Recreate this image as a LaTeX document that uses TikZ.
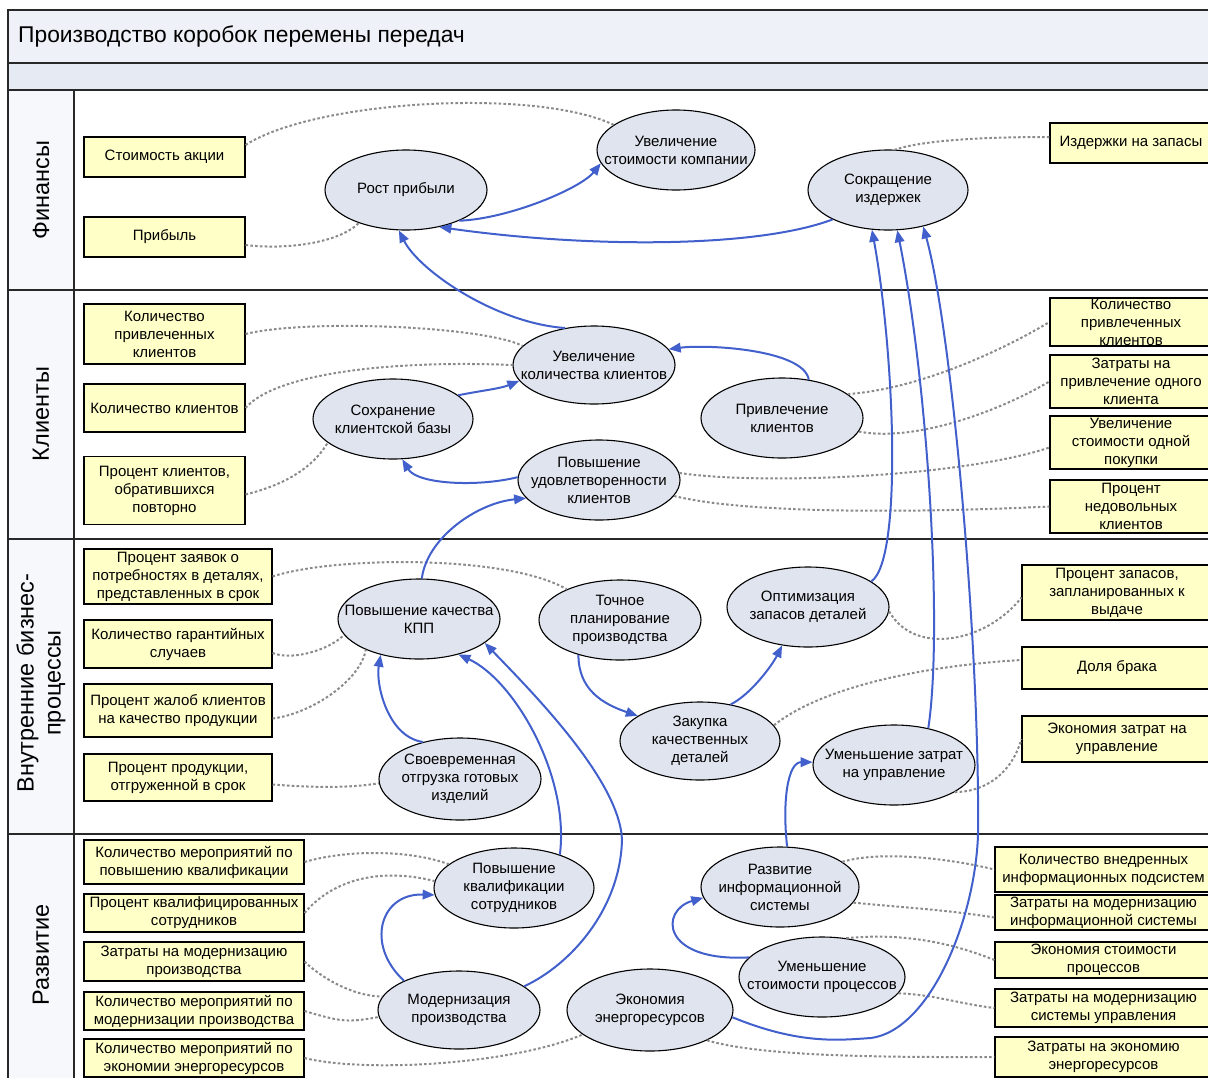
\documentclass[tikz,border=0pt]{standalone}
\usepackage{fontspec}
\setmainfont{Liberation Sans}
\usetikzlibrary{shapes.geometric,arrows.meta}
\definecolor{kpifill}{RGB}{255,255,200}
\definecolor{goalfill}{RGB}{224,228,238}
\definecolor{linkblue}{RGB}{66,96,204}
\definecolor{dotgray}{RGB}{138,138,138}
\definecolor{bandA}{RGB}{238,242,248}
\definecolor{bandB}{RGB}{229,234,243}
\definecolor{lanefill}{RGB}{246,248,251}
\definecolor{framecol}{RGB}{40,40,40}
\newcommand\goalnode[5]{%
  \node[goal,minimum width=#3pt,minimum height=#4pt] (#1) at (#2) {};
  \node[gtext] (#1t) at (#1.center) {#5};}
\newcommand\kpinode[5]{%
  \node[kpi,minimum width=#3pt,minimum height=#4pt] (#1) at (#2) {};
  \node[gtext] (#1t) at (#1.center) {#5};}
\begin{document}
\begin{tikzpicture}[x=1pt,y=-1pt,
  gtext/.style={inner sep=0pt,align=center,font=\fontsize{15}{18}\selectfont},
  kpi/.style={draw=black,line width=1.1pt,fill=kpifill,rectangle,inner sep=0pt},
  goal/.style={draw=black,line width=1.1pt,fill=goalfill,ellipse,inner sep=0pt},
  link/.style={draw=linkblue,line width=2pt,-{Triangle[length=12pt,width=9.5pt]}},
  measure/.style={draw=dotgray,line width=2pt,dash pattern=on 2.6pt off 2.2pt},
  lane/.style={rotate=90,font=\fontsize{23.5}{27}\selectfont,align=center,inner sep=0pt},
  sep/.style={draw=framecol,line width=1.2pt}
]
\useasboundingbox (0,0) rectangle (1208,1077);
\clip (0,0) rectangle (1208,1077);
% frame and lanes
\fill[bandA] (8,10) rectangle (1220,63);
\fill[bandB] (8,63) rectangle (1220,90);
\fill[lanefill] (8,90) rectangle (74,1090);
\draw[sep] (1220,10) -- (8,10) -- (8,1090);
\draw[sep] (8,63) -- (1220,63);
\draw[sep] (8,90) -- (1220,90);
\draw[sep] (8,290) -- (1220,290);
\draw[sep] (8,539) -- (1220,539);
\draw[sep] (8,834) -- (1220,834);
\draw[sep] (74,90) -- (74,1090);
\node[anchor=west,inner sep=0pt,font=\fontsize{22.8}{27}\selectfont] (title) at (18,37) {Производство коробок перемены передач};
\node[lane] (L1) at (41,190) {Финансы};
\node[lane] (L2) at (41,414) {Клиенты};
\node[lane] (L3) at (41,683) {Внутренние бизнес-\\процессы};
\node[lane] (L4) at (41,955) {Развитие};

% KPI boxes
\kpinode{B1}{164.5,157}{161}{40}{Стоимость акции}
\kpinode{B2}{164.5,237}{161}{40}{Прибыль}
\kpinode{B3}{1131,143}{162}{40}{Издержки на запасы}
\kpinode{B4}{164.5,334}{161}{60}{Количество\\привлеченных\\клиентов}
\kpinode{B5}{164.5,408}{161}{48}{Количество клиентов}
\kpinode{B6}{164.5,490.5}{161}{68}{Процент клиентов,\\обратившихся\\повторно}
\kpinode{B7}{1131,322}{162}{48}{Количество\\привлеченных\\клиентов}
\kpinode{B8}{1131,381.5}{162}{53}{Затраты на\\привлечение одного\\клиента}
\kpinode{B9}{1131,442.5}{162}{53}{Увеличение\\стоимости одной\\покупки}
\kpinode{B10}{1131,506.5}{162}{53}{Процент\\недовольных\\клиентов}
\kpinode{B11}{178,576.5}{188}{55}{Процент заявок о\\потребностях в деталях,\\представленных в срок}
\kpinode{B12}{178,644}{188}{48}{Количество гарантийных\\случаев}
\kpinode{B13}{178,710.5}{188}{53}{Процент жалоб клиентов\\на качество продукции}
\kpinode{B14}{178,777.5}{188}{47}{Процент продукции,\\отгруженной в срок}
\kpinode{B15}{1117,592.5}{190}{55}{Процент запасов,\\запланированных к\\выдаче}
\kpinode{B16}{1117,668}{190}{42}{Доля брака}
\kpinode{B17}{1117,739}{190}{46}{Экономия затрат на\\управление}
\kpinode{B18}{194,862}{220}{44}{Количество мероприятий по\\повышению квалификации}
\kpinode{B19}{194,913}{220}{38}{Процент квалифицированных\\сотрудников}
\kpinode{B20}{194,961.5}{220}{39}{Затраты на модернизацию\\производства}
\kpinode{B21}{194,1011}{220}{38}{Количество мероприятий по\\модернизации производства}
\kpinode{B22}{194,1058}{220}{38}{Количество мероприятий по\\экономии энергоресурсов}
\kpinode{B23}{1103.5,869.5}{217}{45}{Количество внедренных\\информационных подсистем}
\kpinode{B24}{1103.5,912.5}{217}{35}{Затраты на модернизацию\\информационной системы}
\kpinode{B25}{1103.5,960}{217}{36}{Экономия стоимости\\процессов}
\kpinode{B26}{1103.5,1008}{217}{38}{Затраты на модернизацию\\системы управления}
\kpinode{B27}{1103.5,1057}{217}{40}{Затраты на экономию\\энергоресурсов}

% goals
\goalnode{E1}{406,190}{162}{80}{Рост прибыли}
\goalnode{E2}{676,150}{158}{80}{Увеличение\\стоимости компании}
\goalnode{E3}{888,190}{160}{80}{Сокращение\\издержек}
\goalnode{E4}{594,365}{162}{78}{Увеличение\\количества клиентов}
\goalnode{E5}{393,419}{160}{80}{Сохранение\\клиентской базы}
\goalnode{E6}{599,480}{162}{80}{Повышение\\удовлетворенности\\клиентов}
\goalnode{E7}{782,418}{162}{80}{Привлечение\\клиентов}
\goalnode{E8}{419,619}{162}{80}{Повышение качества\\КПП}
\goalnode{E9}{620,620}{162}{80}{Точное\\планирование\\производства}
\goalnode{E10}{808,607}{162}{80}{Оптимизация\\запасов деталей}
\goalnode{E11}{700,741}{160}{78}{Закупка\\качественных\\деталей}
\goalnode{E12}{460,779}{162}{82}{Своевременная\\отгрузка готовых\\изделий}
\goalnode{E13}{894,765}{162}{80}{Уменьшение затрат\\на управление}
\goalnode{E14}{514,888}{160}{80}{Повышение\\квалификации\\сотрудников}
\goalnode{E15}{780,887}{158}{80}{Развитие\\информационной\\системы}
\goalnode{E16}{822,977}{166}{80}{Уменьшение\\стоимости процессов}
\goalnode{E17}{650,1010}{166}{82}{Экономия\\энергоресурсов}
\goalnode{E18}{459,1010}{162}{78}{Модернизация\\производства}

% measure links (dotted)
\draw[measure] ([yshift=12pt]B1.east) .. controls +(70,-45) and +(-77,-37) .. (E2.158);
\draw[measure] ([yshift=-8pt]B2.east) .. controls +(40,5) and +(-20,20) .. (E1.-145);
\draw[measure] ([yshift=6pt]B3.west) .. controls +(-60,0) and +(30,-10) .. (E3.80);
\draw[measure] (B4.east) .. controls +(60,-15) and +(-40,-20) .. (E4.165);
\draw[measure] (B5.east) .. controls +(30,-35) and +(-120,-5) .. (E4.180);
\draw[measure] ([yshift=-4pt]B6.east) .. controls +(40,-10) and +(-15,25) .. (E5.-160);
\draw[measure] (E7.20) .. controls +(70,-5) and +(-50,30) .. (B7.west);
\draw[measure] (E7.-10) .. controls +(50,10) and +(-60,35) .. (B8.west);
\draw[measure] (E6.5) .. controls +(80,12) and +(-90,30) .. ([yshift=-5pt]B9.west);
\draw[measure] (E6.-12) .. controls +(80,20) and +(-100,5) .. (B10.west);
\draw[measure] (B11.east) .. controls +(60,-20) and +(-60,-35) .. (E9.150);
\draw[measure] ([yshift=-9pt]B12.east) .. controls +(20,8) and +(-15,15) .. (E8.-168);
\draw[measure] ([yshift=-8pt]B13.east) .. controls +(40,-5) and +(-5,30) .. (E8.-150);
\draw[measure] ([yshift=-7pt]B14.east) .. controls +(40,3) and +(-30,5) .. (E12.183);
\draw[measure] (E10.-3) .. controls +(25,45) and +(-35,45) .. ([yshift=-5pt]B15.west);
\draw[measure] (E11.12) .. controls +(50,-40) and +(-90,5) .. ([yshift=8pt]B16.west);
\draw[measure] (E13.-24) .. controls +(30,0) and +(-10,35) .. (B17.west);
\draw[measure] (B18.east) .. controls +(40,-12) and +(-40,-15) .. (E14.160);
\draw[measure] (B19.east) .. controls +(25,-30) and +(-60,-15) .. (E14.175);
\draw[measure] (B20.east) .. controls +(15,15) and +(-30,0) .. (E18.170);
\draw[measure] (B21.east) .. controls +(40,12) and +(-30,5) .. (E18.-175);
\draw[measure] (B22.east) .. controls +(60,15) and +(-70,30) .. (E17.-160);
\draw[measure] (E15.22) .. controls +(40,-12) and +(-40,-10) .. (B23.west);
\draw[measure] (E15.-12) .. controls +(50,5) and +(-50,-8) .. ([yshift=-5pt]B24.west);
\draw[measure] (E16.58) .. controls +(50,-5) and +(-50,-20) .. (B25.west);
\draw[measure] (E16.-12) .. controls +(40,2) and +(-40,-5) .. (B26.west);
\draw[measure] (E17.-28) .. controls +(60,18) and +(-80,0) .. (B27.west);

% cause-effect links (blue)
\draw[link] (E1.-30) .. controls +(50,-2) and +(-20,25) .. (E2.190);
\draw[link] (E3.208) .. controls +(-80,30) and +(140,20) .. (E1.-48);
\draw[link] (E4.128) .. controls +(-70,-5) and +(20,40) .. (E1.-100);
\draw[link] (E7.55) .. controls +(-5,-30) and +(40,-5) .. (E4.12);
\draw[link] (E5.20) .. controls +(25,-5) and +(-20,8) .. (E4.192);
\draw[link] (E6.178) .. controls +(-40,10) and +(15,25) .. (E5.-77);
\draw[link] (E8.86) .. controls +(5,-40) and +(-50,5) .. (E6.194);
\draw[link] (E10.22) .. controls +(32,-22) and +(22,120) .. (E3.-112);
\draw[link] (E13.47) .. controls +(15,-100) and +(30,150) .. (E3.-77);
\draw[link] (E17.-5) .. controls (800,1045) and (840,1040) .. (871,1038)
   .. controls (930,1030) and (975,920) .. (978,835)
   .. controls (980,650) and (952,330) .. (E3.-46);
\draw[link] (E11.50) .. controls +(20,-10) and +(-10,20) .. (E10.-124);
\draw[link] (E9.-140) .. controls +(0,35) and +(-35,-12) .. (E11.158);
\draw[link] (E12.135) .. controls +(-35,-5) and +(-5,30) .. (E8.-137);
\draw[link] (E14.36) .. controls +(10,-80) and +(55,25) .. (E8.-42);
\draw[link] (E18.20) .. controls (570,965) and (620,910) .. (622,840)
   .. controls (620,780) and (530,690) .. (E8.-20);
\draw[link] (E18.152) .. controls (365,945) and (380,893) .. (E14.185);
\draw[link] (E16.165) .. controls (660,962) and (660,910) .. (E15.188);
\draw[link] (E15.80) .. controls +(-5,-45) and +(-25,0) .. (E13.178);
\end{tikzpicture}
\end{document}
